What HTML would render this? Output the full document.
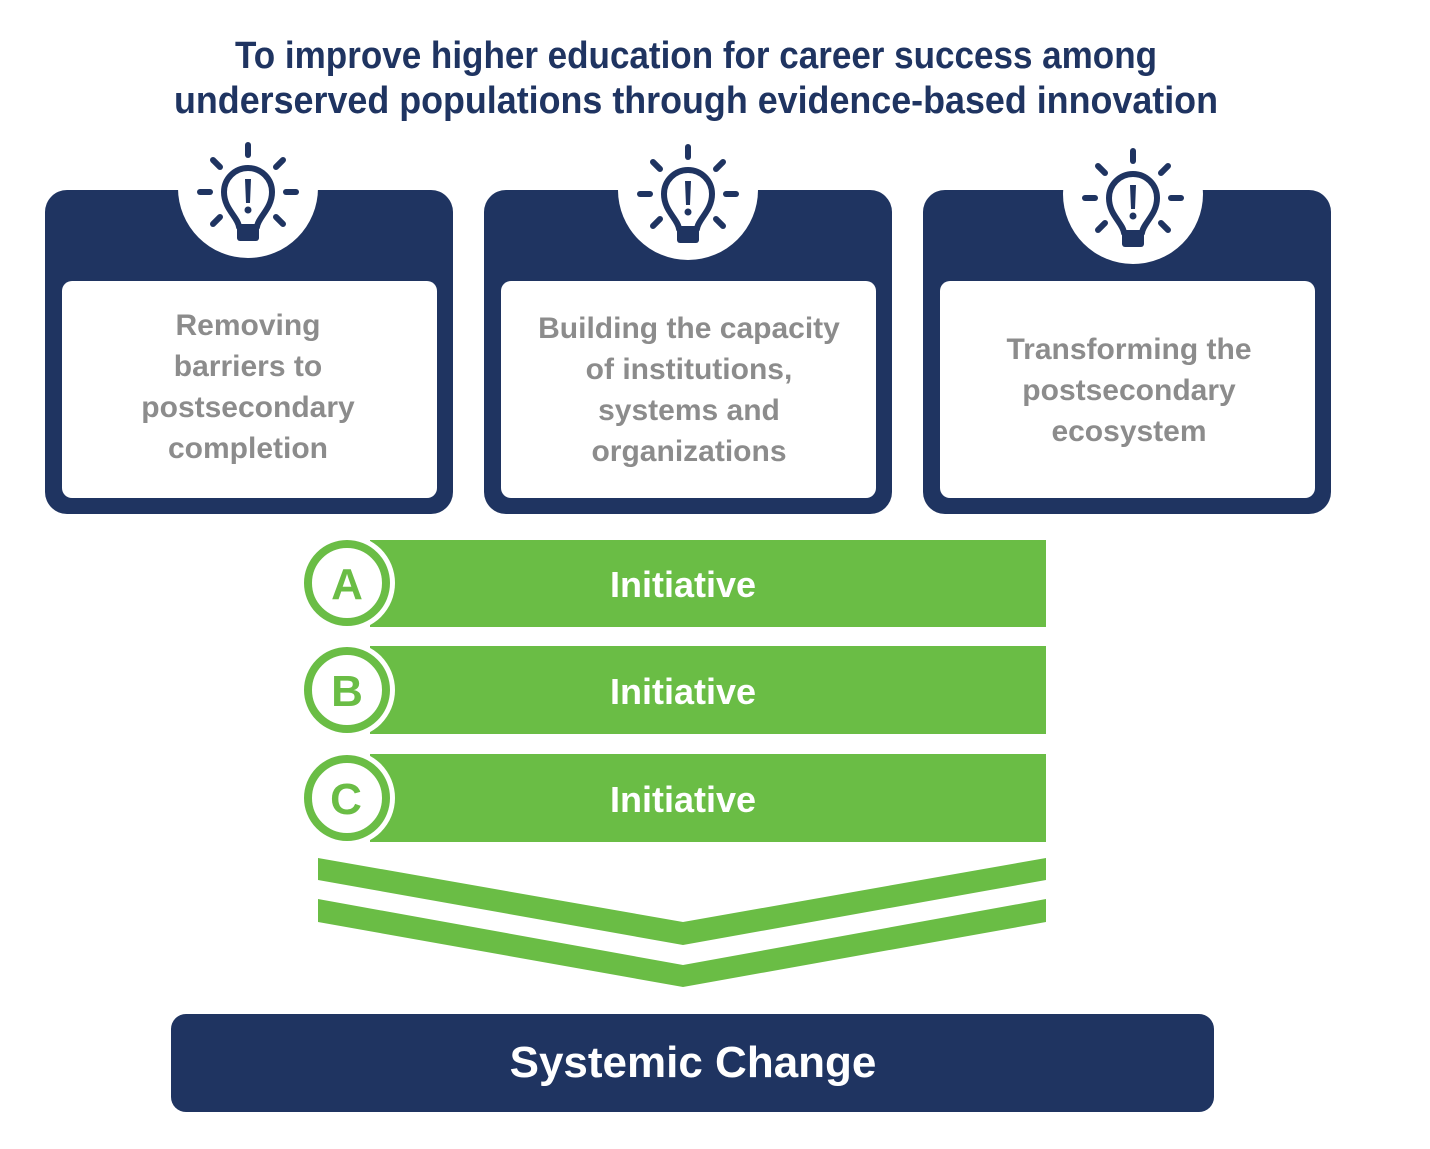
<!DOCTYPE html>
<html><head><meta charset="utf-8"><style>
html,body{margin:0;padding:0;background:#fff}
svg{display:block}
text{font-family:"Liberation Sans",sans-serif;font-weight:bold}
</style></head><body>
<svg width="1430" height="1149" viewBox="0 0 1430 1149">
<defs>
<g id="bulb">
  <path d="M-9,32 C-10,22 -24,14 -24,-3 A24,24 0 0 1 24,-3 C24,14 10,22 9,32 Z" fill="none" stroke="#1f3461" stroke-width="6" stroke-linejoin="round"/>
  <rect x="-11" y="30" width="22" height="16" rx="3" fill="#1f3461"/>
  <path d="M-3,-16 L3,-16 L2,8 L-2,8 Z" fill="#1f3461"/>
  <circle cx="0" cy="15" r="3.5" fill="#1f3461"/>
  <g stroke="#1f3461" stroke-width="6" stroke-linecap="round">
    <line x1="0" y1="-50" x2="0" y2="-40"/>
    <line x1="-48" y1="-3" x2="-38" y2="-3"/>
    <line x1="48" y1="-3" x2="38" y2="-3"/>
    <line x1="-35" y1="-35" x2="-28" y2="-28"/>
    <line x1="35" y1="-35" x2="28" y2="-28"/>
    <line x1="-35" y1="29" x2="-28" y2="22"/>
    <line x1="35" y1="29" x2="28" y2="22"/>
  </g>
</g>
</defs>
<g fill="#1f3461">
<text x="696" y="68" font-size="38" text-anchor="middle" textLength="922" lengthAdjust="spacingAndGlyphs">To improve higher education for career success among</text>
<text x="696" y="113" font-size="38" text-anchor="middle" textLength="1044" lengthAdjust="spacingAndGlyphs">underserved populations through evidence-based innovation</text>
</g>
<!-- cards -->
<g>
<rect x="45" y="190" width="408" height="324" rx="22" fill="#1f3461"/>
<rect x="62" y="281" width="375" height="217" rx="10" fill="#fff"/>
<circle cx="248" cy="188" r="70" fill="#fff"/>
<use href="#bulb" x="248" y="195"/>
<rect x="484" y="190" width="408" height="324" rx="22" fill="#1f3461"/>
<rect x="501" y="281" width="375" height="217" rx="10" fill="#fff"/>
<circle cx="688" cy="190" r="70" fill="#fff"/>
<use href="#bulb" x="688" y="197"/>
<rect x="923" y="190" width="408" height="324" rx="22" fill="#1f3461"/>
<rect x="940" y="281" width="375" height="217" rx="10" fill="#fff"/>
<circle cx="1133" cy="194" r="70" fill="#fff"/>
<use href="#bulb" x="1133" y="201"/>
</g>
<g fill="#8c8c8c" font-size="30" text-anchor="middle">
<text x="248" y="335">Removing</text>
<text x="248" y="376">barriers to</text>
<text x="248" y="417">postsecondary</text>
<text x="248" y="458">completion</text>
<text x="689" y="338">Building the capacity</text>
<text x="689" y="379">of institutions,</text>
<text x="689" y="420">systems and</text>
<text x="689" y="461">organizations</text>
<text x="1129" y="359">Transforming the</text>
<text x="1129" y="400">postsecondary</text>
<text x="1129" y="441">ecosystem</text>
</g>
<!-- initiatives -->
<g>
<rect x="370" y="540" width="676" height="87" fill="#6abd45"/>
<rect x="370" y="646" width="676" height="88" fill="#6abd45"/>
<rect x="370" y="754" width="676" height="88" fill="#6abd45"/>
<g fill="#fff"><circle cx="347" cy="583" r="48"/><circle cx="347" cy="690" r="48"/><circle cx="347" cy="798" r="48"/></g>
<g fill="none" stroke="#6abd45" stroke-width="8"><circle cx="347" cy="583" r="39"/><circle cx="347" cy="690" r="39"/><circle cx="347" cy="798" r="39"/></g>
<g fill="#6abd45" font-size="44" text-anchor="middle">
<text x="347" y="599">A</text><text x="347" y="706">B</text><text x="346" y="814">C</text>
</g>
<g fill="#fff" font-size="36" text-anchor="middle">
<text x="683" y="597">Initiative</text><text x="683" y="704">Initiative</text><text x="683" y="812">Initiative</text>
</g>
</g>
<!-- chevrons -->
<g fill="#6abd45">
<polygon points="318,858 683,922 1046,858 1046,880 683,945 318,880"/>
<polygon points="318,899 683,965 1046,899 1046,922 683,987 318,922"/>
</g>
<rect x="171" y="1014" width="1043" height="98" rx="15" fill="#1f3461"/>
<text x="693" y="1077" font-size="44" fill="#fff" text-anchor="middle">Systemic Change</text>
</svg>
</body></html>
